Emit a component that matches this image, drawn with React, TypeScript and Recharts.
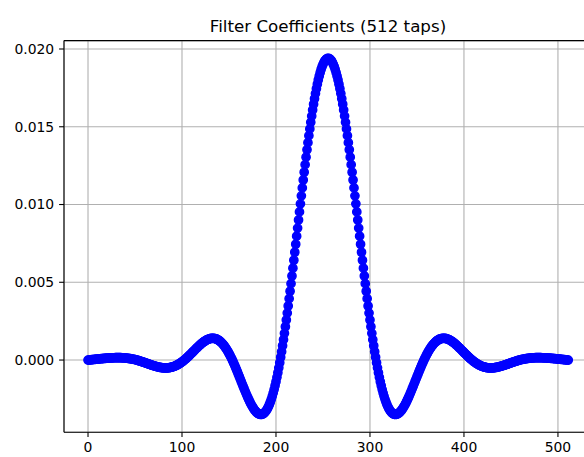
import React from "react";
import {
  ScatterChart,
  Scatter,
  XAxis,
  YAxis,
  CartesianGrid,
  ReferenceLine,
} from "recharts";

// Filter coefficients, tap 0 .. 511
const coefficients: number[] = [
  -0.000003, 0.000003, 0.000009, 0.000015, 0.000022, 0.000028, 0.000034, 0.00004, 0.000047, 0.000053, 0.000059, 0.000065, 0.000072, 0.000078, 0.000084, 0.00009,
  0.000095, 0.000101, 0.000107, 0.000112, 0.000117, 0.000122, 0.000127, 0.000131, 0.000135, 0.000139, 0.000142, 0.000145, 0.000147, 0.000149, 0.00015, 0.000151,
  0.000151, 0.000151, 0.00015, 0.000148, 0.000146, 0.000142, 0.000138, 0.000134, 0.000128, 0.000121, 0.000114, 0.000106, 0.000097, 0.000087, 0.000076, 0.000064,
  0.000051, 0.000038, 0.000023, 0.000008, -0.000008, -0.000025, -0.000043, -0.000061, -0.00008, -0.000099, -0.000119, -0.00014, -0.000161, -0.000182, -0.000203, -0.000225,
  -0.000246, -0.000268, -0.000289, -0.00031, -0.000331, -0.000351, -0.00037, -0.000389, -0.000407, -0.000424, -0.000439, -0.000454, -0.000467, -0.000479, -0.000488, -0.000497,
  -0.000503, -0.000507, -0.00051, -0.00051, -0.000508, -0.000503, -0.000496, -0.000487, -0.000475, -0.00046, -0.000443, -0.000422, -0.0004, -0.000374, -0.000346, -0.000315,
  -0.000281, -0.000244, -0.000205, -0.000164, -0.00012, -0.000074, -0.000025, 0.000026, 0.000078, 0.000133, 0.000189, 0.000246, 0.000305, 0.000364, 0.000425, 0.000486,
  0.000547, 0.000609, 0.00067, 0.000731, 0.00079, 0.000849, 0.000907, 0.000962, 0.001016, 0.001068, 0.001116, 0.001162, 0.001205, 0.001244, 0.001279, 0.001311,
  0.001337, 0.001359, 0.001377, 0.001388, 0.001395, 0.001396, 0.001391, 0.001379, 0.001362, 0.001338, 0.001308, 0.001271, 0.001227, 0.001177, 0.00112, 0.001056,
  0.000985, 0.000908, 0.000824, 0.000733, 0.000636, 0.000533, 0.000424, 0.00031, 0.00019, 0.000064, -0.000066, -0.0002, -0.000338, -0.00048, -0.000625, -0.000773,
  -0.000923, -0.001074, -0.001226, -0.001379, -0.001531, -0.001683, -0.001833, -0.001982, -0.002127, -0.002269, -0.002406, -0.002539, -0.002666, -0.002787, -0.002901, -0.003007,
  -0.003104, -0.003193, -0.003271, -0.003339, -0.003396, -0.003441, -0.003473, -0.003492, -0.003498, -0.00349, -0.003466, -0.003428, -0.003374, -0.003303, -0.003217, -0.003113,
  -0.002993, -0.002855, -0.002699, -0.002526, -0.002335, -0.002126, -0.0019, -0.001655, -0.001393, -0.001113, -0.000816, -0.000502, -0.000172, 0.000176, 0.000539, 0.000917,
  0.00131, 0.001718, 0.002139, 0.002573, 0.00302, 0.003478, 0.003946, 0.004424, 0.004911, 0.005406, 0.005908, 0.006416, 0.006929, 0.007445, 0.007964, 0.008484,
  0.009005, 0.009525, 0.010043, 0.010558, 0.011069, 0.011575, 0.012073, 0.012564, 0.013046, 0.013518, 0.013979, 0.014427, 0.014862, 0.015282, 0.015687, 0.016075,
  0.016446, 0.016798, 0.017131, 0.017444, 0.017736, 0.018006, 0.018254, 0.018479, 0.018681, 0.018858, 0.019011, 0.019139, 0.019242, 0.019319, 0.019371, 0.019397,
  0.019397, 0.019371, 0.019319, 0.019242, 0.019139, 0.019011, 0.018858, 0.018681, 0.018479, 0.018254, 0.018006, 0.017736, 0.017444, 0.017131, 0.016798, 0.016446,
  0.016075, 0.015687, 0.015282, 0.014862, 0.014427, 0.013979, 0.013518, 0.013046, 0.012564, 0.012073, 0.011575, 0.011069, 0.010558, 0.010043, 0.009525, 0.009005,
  0.008484, 0.007964, 0.007445, 0.006929, 0.006416, 0.005908, 0.005406, 0.004911, 0.004424, 0.003946, 0.003478, 0.00302, 0.002573, 0.002139, 0.001718, 0.00131,
  0.000917, 0.000539, 0.000176, -0.000172, -0.000502, -0.000816, -0.001113, -0.001393, -0.001655, -0.0019, -0.002126, -0.002335, -0.002526, -0.002699, -0.002855, -0.002993,
  -0.003113, -0.003217, -0.003303, -0.003374, -0.003428, -0.003466, -0.00349, -0.003498, -0.003492, -0.003473, -0.003441, -0.003396, -0.003339, -0.003271, -0.003193, -0.003104,
  -0.003007, -0.002901, -0.002787, -0.002666, -0.002539, -0.002406, -0.002269, -0.002127, -0.001982, -0.001833, -0.001683, -0.001531, -0.001379, -0.001226, -0.001074, -0.000923,
  -0.000773, -0.000625, -0.00048, -0.000338, -0.0002, -0.000066, 0.000064, 0.00019, 0.00031, 0.000424, 0.000533, 0.000636, 0.000733, 0.000824, 0.000908, 0.000985,
  0.001056, 0.00112, 0.001177, 0.001227, 0.001271, 0.001308, 0.001338, 0.001362, 0.001379, 0.001391, 0.001396, 0.001395, 0.001388, 0.001377, 0.001359, 0.001337,
  0.001311, 0.001279, 0.001244, 0.001205, 0.001162, 0.001116, 0.001068, 0.001016, 0.000962, 0.000907, 0.000849, 0.00079, 0.000731, 0.00067, 0.000609, 0.000547,
  0.000486, 0.000425, 0.000364, 0.000305, 0.000246, 0.000189, 0.000133, 0.000078, 0.000026, -0.000025, -0.000074, -0.00012, -0.000164, -0.000205, -0.000244, -0.000281,
  -0.000315, -0.000346, -0.000374, -0.0004, -0.000422, -0.000443, -0.00046, -0.000475, -0.000487, -0.000496, -0.000503, -0.000508, -0.00051, -0.00051, -0.000507, -0.000503,
  -0.000497, -0.000488, -0.000479, -0.000467, -0.000454, -0.000439, -0.000424, -0.000407, -0.000389, -0.00037, -0.000351, -0.000331, -0.00031, -0.000289, -0.000268, -0.000246,
  -0.000225, -0.000203, -0.000182, -0.000161, -0.00014, -0.000119, -0.000099, -0.00008, -0.000061, -0.000043, -0.000025, -0.000008, 0.000008, 0.000023, 0.000038, 0.000051,
  0.000064, 0.000076, 0.000087, 0.000097, 0.000106, 0.000114, 0.000121, 0.000128, 0.000134, 0.000138, 0.000142, 0.000146, 0.000148, 0.00015, 0.000151, 0.000151,
  0.000151, 0.00015, 0.000149, 0.000147, 0.000145, 0.000142, 0.000139, 0.000135, 0.000131, 0.000127, 0.000122, 0.000117, 0.000112, 0.000107, 0.000101, 0.000095,
  0.00009, 0.000084, 0.000078, 0.000072, 0.000065, 0.000059, 0.000053, 0.000047, 0.00004, 0.000034, 0.000028, 0.000022, 0.000015, 0.000009, 0.000003, -0.000003,
];

const xTicks: number[] = [0, 100, 200, 300, 400, 500];
const yTicks: number[] = [0, 0.005, 0.01, 0.015, 0.02];
const title = "Filter Coefficients (512 taps)";

const X_DOMAIN: [number, number] = [-25.55, 536.55];
const Y_DOMAIN: [number, number] = [-0.00464, 0.02054];

const data = coefficients.map((h, n) => ({ n, h }));

const FONT = "'DejaVu Sans', sans-serif";
const BLUE = "#0000ff";

const Marker = (props: any) => {
  const { cx, cy } = props;
  if (cx == null || cy == null) return null;
  return <circle cx={cx} cy={cy} r={4.17} fill={BLUE} stroke={BLUE} strokeWidth={1.39} />;
};

export default function App() {
  return (
    <div
      style={{
        position: "absolute",
        left: 0,
        top: 0,
        width: 584,
        height: 457,
        overflow: "hidden",
        background: "#fff",
      }}
    >
      <ScatterChart
        width={600}
        height={457}
        margin={{ top: 40.6, right: 7.7, bottom: 0, left: 0 }}
      >
        <CartesianGrid stroke="#b0b0b0" strokeWidth={1.1} />
        <XAxis
          type="number"
          dataKey="n"
          domain={X_DOMAIN}
          ticks={xTicks}
          allowDataOverflow
          height={24.8}
          tickSize={4.9}
          tickMargin={4.9}
          axisLine={{ stroke: "#000", strokeWidth: 1.1 }}
          tickLine={{ stroke: "#000", strokeWidth: 1.1 }}
          tick={{ fill: "#000", fontSize: 13.9, fontFamily: FONT }}
          interval={0}
        />
        <YAxis
          type="number"
          dataKey="h"
          domain={Y_DOMAIN}
          ticks={yTicks}
          allowDataOverflow
          width={64}
          tickSize={4.9}
          tickMargin={4.9}
          axisLine={{ stroke: "#000", strokeWidth: 1.1 }}
          tickLine={{ stroke: "#000", strokeWidth: 1.1 }}
          tick={{ fill: "#000", fontSize: 13.9, fontFamily: FONT }}
          tickFormatter={(v: number) => v.toFixed(3)}
          interval={0}
        />
        <ReferenceLine y={Y_DOMAIN[1]} stroke="#000" strokeWidth={1.1} />
        <Scatter
          data={data}
          shape={Marker}
          isAnimationActive={false}
          fill={BLUE}
        />
      </ScatterChart>
      <svg
        width={584}
        height={457}
        style={{ position: "absolute", left: 0, top: 0, pointerEvents: "none" }}
      >
        <text
          x={328}
          y={32}
          textAnchor="middle"
          fontSize={16.7}
          fontFamily={FONT}
          fill="#000"
        >
          {title}
        </text>
      </svg>
    </div>
  );
}
